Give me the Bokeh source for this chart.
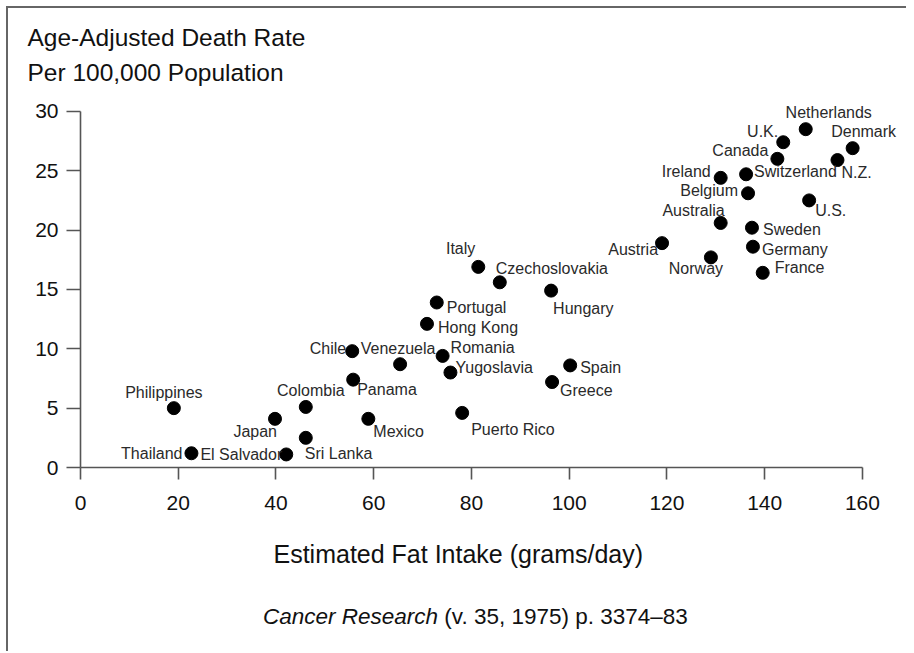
from bokeh.plotting import figure
from bokeh.models import ColumnDataSource, Range1d, FixedTicker, Title, Div
from bokeh.layouts import column
from bokeh.core.properties import value
from bokeh.embed import file_html
from bokeh.resources import INLINE

# ---- data ----
countries = ["Philippines", "Thailand", "El Salvador", "Japan", "Colombia", "Sri Lanka",
             "Chile", "Panama", "Venezuela", "Mexico", "Hong Kong", "Portugal", "Romania",
             "Yugoslavia", "Italy", "Czechoslovakia", "Puerto Rico", "Hungary", "Greece",
             "Spain", "Austria", "Norway", "Australia", "Ireland", "Belgium", "Switzerland",
             "Canada", "U.K.", "Netherlands", "Denmark", "N.Z.", "U.S.", "Sweden", "Germany",
             "France"]
fat_intake = [19.1, 22.7, 42.1, 39.8, 46.1, 46.1,
              55.6, 55.8, 65.4, 58.9, 70.9, 72.9, 74.1,
              75.7, 81.4, 85.8, 78.1, 96.3, 96.5,
              100.2, 119.0, 129.0, 131.0, 131.0, 136.6, 136.2,
              142.6, 143.8, 148.4, 158.0, 154.9, 149.1, 137.4, 137.6,
              139.6]
death_rate = [5.0, 1.2, 1.1, 4.1, 5.1, 2.5,
              9.8, 7.4, 8.7, 4.1, 12.1, 13.9, 9.4,
              8.0, 16.9, 15.6, 4.6, 14.9, 7.2,
              8.6, 18.9, 17.7, 20.6, 24.4, 23.1, 24.7,
              26.0, 27.4, 28.5, 26.9, 25.9, 22.5, 20.2, 18.6,
              16.4]
x_ticks = [0, 20, 40, 60, 80, 100, 120, 140, 160]
y_ticks = [0, 5, 10, 15, 20, 25, 30]

y_title = ["Age-Adjusted Death Rate", "Per 100,000 Population"]
x_title = "Estimated Fat Intake (grams/day)"
source_journal = "Cancer Research"
source_rest = "(v. 35, 1975) p. 3374\u201383"

# ---- label placement (style only: alignment and pixel offsets from each dot) ----
label_style = {
    "Philippines": ("center", -10, -16), "Thailand": ("right", -9, 0),
    "El Salvador": ("right", -4, 0), "Japan": ("right", 2, 13),
    "Colombia": ("center", 5, -16), "Sri Lanka": ("left", -1, 16),
    "Chile": ("right", -6, -3), "Panama": ("left", 4, 10),
    "Venezuela": ("center", -2, -16), "Mexico": ("left", 5, 13),
    "Hong Kong": ("left", 11, 4), "Portugal": ("left", 10, 5),
    "Romania": ("left", 8, -8), "Yugoslavia": ("left", 5, -5),
    "Italy": ("right", -3, -18), "Czechoslovakia": ("left", -4, -14),
    "Puerto Rico": ("left", 9, 17), "Hungary": ("left", 2, 18),
    "Greece": ("left", 8, 8), "Spain": ("left", 10, 2),
    "Austria": ("right", -4, 6), "Norway": ("center", -15, 11),
    "Australia": ("right", 4, -12), "Ireland": ("right", -10, -6),
    "Belgium": ("right", -10, -3), "Switzerland": ("left", 8, -3),
    "Canada": ("right", -9, -8), "U.K.": ("right", -5, -11),
    "Netherlands": ("center", 23, -17), "Denmark": ("center", 11, -17),
    "N.Z.": ("left", 4, 12), "U.S.": ("left", 6, 10),
    "Sweden": ("left", 11, 2), "Germany": ("left", 9, 3),
    "France": ("left", 12, -5),
}

source = ColumnDataSource(data=dict(
    x=fat_intake, y=death_rate, name=countries,
    align=[label_style[c][0] for c in countries],
    dx=[label_style[c][1] for c in countries],
    dy=[label_style[c][2] for c in countries],
))

FONT = "Liberation Sans"

p = figure(width=900, height=596, output_backend="svg", toolbar_location=None,
           x_range=Range1d(0, 168), y_range=Range1d(0, 31),
           min_border_left=72, min_border_right=7, min_border_top=91, min_border_bottom=137,
           margin=(0, 0, 0, 0))
p.outline_line_color = None
p.xgrid.grid_line_color = None
p.ygrid.grid_line_color = None
p.background_fill_color = "white"
p.border_fill_color = "white"

for ax, ticks in ((p.xaxis[0], x_ticks), (p.yaxis[0], y_ticks)):
    ax.ticker = FixedTicker(ticks=ticks)
    ax.axis_line_color = "#555"
    ax.axis_line_width = 1.6
    ax.major_tick_line_color = "#555"
    ax.major_tick_line_width = 1.6
    ax.major_tick_in = 0
    ax.minor_tick_line_color = None
    ax.major_label_text_font = FONT
    ax.major_label_text_font_size = "21px"
    ax.major_label_text_color = "#111"
p.xaxis.bounds = (0, 160)
p.yaxis.bounds = (0, 30)
p.xaxis.major_tick_out = 12
p.yaxis.major_tick_out = 14
p.xaxis.major_label_standoff = 16
p.yaxis.major_label_standoff = 8

p.scatter("x", "y", source=source, size=13, color="black")
p.text("x", "y", text="name", source=source, x_offset="dx", y_offset="dy",
       text_align="align", text_baseline="middle", text_font=value(FONT),
       text_font_size="16px", text_color="#2a2a2a")

def make_title(text, offset, standoff, size, line_height=1.2):
    return Title(text=text, align="left", offset=offset, standoff=standoff,
                 text_font=FONT, text_font_size=size, text_font_style="normal",
                 text_color="#111", text_line_height=line_height)

p.add_layout(make_title("\n".join(y_title), -53, 27, "24.5px", 1.3), "above")
p.add_layout(make_title(x_title, 193, 51, "25px"), "below")

cite = Div(text=f"<i>{source_journal}</i> {source_rest}", width=900, height=49,
           margin=(0, 0, 0, 0),
           styles={"font-family": FONT, "font-size": "22.5px", "color": "#111",
                   "padding-left": "255px", "line-height": "normal",
                   "background": "white"})

layout = column(p, cite, spacing=0, margin=(8, 0, 0, 8),
                styles={"box-shadow": "-2px -2px 0 0 #666"})
open("out.html", "w").write(file_html(layout, INLINE))
